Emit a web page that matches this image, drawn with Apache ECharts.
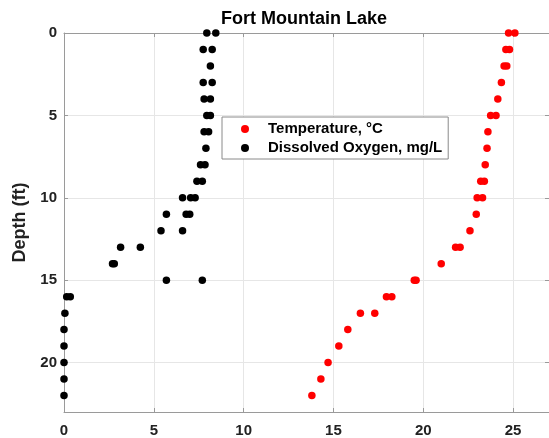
<!DOCTYPE html>
<html>
<head>
<meta charset="utf-8">
<script src="https://cdn.jsdelivr.net/npm/echarts@6/dist/echarts.min.js"></script>
<style>
html,body{margin:0;padding:0;background:#fff;}
#c{width:549px;height:438px;}
</style>
</head>
<body>
<div id="c"></div>
<script>
var titleText = 'Fort Mountain Lake';
var yAxisName = 'Depth (ft)';
var tempName = 'Temperature, \u00B0C';
var doName = 'Dissolved Oxygen, mg/L';

var tempDepth = [0, 0, 1, 1, 2, 2, 3, 4, 5, 5, 6, 7, 8, 9, 9, 10, 10, 11, 12, 13, 13, 14, 15, 15, 16, 16, 17, 17, 18, 19, 20, 21, 22];
var tempValue = [24.75, 25.1, 24.6, 24.8, 24.5, 24.65, 24.35, 24.15, 23.75, 24.05, 23.6, 23.55, 23.45, 23.2, 23.4, 23.0, 23.3, 22.95, 22.6, 21.8, 22.05, 21.0, 19.5, 19.6, 17.95, 18.25, 16.5, 17.3, 15.8, 15.3, 14.7, 14.3, 13.8];

var doDepth = [0, 0, 1, 1, 2, 3, 3, 4, 4, 5, 5, 6, 6, 7, 8, 8, 9, 9, 10, 10, 10, 11, 11, 11, 12, 12, 13, 13, 14, 14, 15, 15, 16, 16, 17, 18, 19, 20, 21, 22];
var doValue = [7.95, 8.45, 7.75, 8.25, 8.15, 7.75, 8.25, 7.8, 8.15, 7.95, 8.15, 7.8, 8.05, 7.9, 7.6, 7.85, 7.4, 7.7, 6.6, 7.05, 7.3, 5.7, 6.8, 7.0, 5.4, 6.6, 3.15, 4.25, 2.7, 2.8, 5.7, 7.7, 0.15, 0.35, 0.05, 0, 0, 0, 0, 0];

var xTicks = [0, 5, 10, 15, 20, 25];
var yTicks = [0, 5, 10, 15, 20];

function pairs(xs, ys) {
  var out = [];
  for (var i = 0; i < xs.length; i++) out.push([xs[i], ys[i]]);
  return out;
}

var FONT = '"Liberation Sans", Arial, Helvetica, sans-serif';
var AXC = '#9a9a9a';
var GRIDC = '#e6e6e6';

var chart = echarts.init(document.getElementById('c'), null, {renderer: 'canvas'});
chart.setOption({
  animation: false,
  backgroundColor: '#ffffff',
  title: {
    text: titleText,
    left: 221,
    top: 10,
    padding: 0,
    textStyle: {fontFamily: FONT, fontSize: 18, fontWeight: 'bold', color: '#000'}
  },
  legend: {
    data: [tempName, doName],
    orient: 'vertical',
    left: 222,
    top: 117,
    padding: [4, 6, 3, 19],
    itemGap: 3,
    itemWidth: 8,
    itemHeight: 8,
    icon: 'circle',
    borderColor: '#8a8a8a',
    borderWidth: 1,
    backgroundColor: '#fff',
    itemStyle: {opacity: 1},
    textStyle: {fontFamily: FONT, fontSize: 15, fontWeight: 'bold', color: '#000', lineHeight: 16, padding: [0, 0, 0, 14]}
  },
  grid: {left: 64, top: 33, width: 485, height: 383, containLabel: false},
  xAxis: [{
    type: 'value', min: 0, max: 27, interval: 5, position: 'bottom',
    axisLine: {show: true, onZero: false, lineStyle: {color: AXC, width: 1}},
    axisTick: {show: true, inside: true, length: 4, lineStyle: {color: AXC}},
    axisLabel: {margin: 11, fontFamily: FONT, fontSize: 15, fontWeight: 'bold', color: '#222',
      showMaxLabel: false,
      formatter: function (v) { return xTicks.indexOf(v) >= 0 ? String(v) : ''; }},
    splitLine: {show: true, lineStyle: {color: GRIDC, width: 1}}
  }, {
    type: 'value', min: 0, max: 27, interval: 5, position: 'top',
    axisLine: {show: true, onZero: false, lineStyle: {color: AXC, width: 1}},
    axisTick: {show: true, inside: true, length: 4, lineStyle: {color: AXC}},
    axisLabel: {show: false},
    splitLine: {show: false}
  }],
  yAxis: [{
    type: 'value', min: 0, max: 23, interval: 5, inverse: true, position: 'left',
    name: yAxisName, nameLocation: 'middle', nameGap: 30, nameRotate: 90,
    nameTextStyle: {fontFamily: FONT, fontSize: 18, fontWeight: 'bold', color: '#222'},
    axisLine: {show: true, onZero: false, lineStyle: {color: AXC, width: 1}},
    axisTick: {show: true, inside: true, length: 4, lineStyle: {color: AXC}},
    axisLabel: {margin: 7, fontFamily: FONT, fontSize: 15, fontWeight: 'bold', color: '#222',
      showMaxLabel: false,
      formatter: function (v) { return yTicks.indexOf(v) >= 0 ? String(v) : ''; }},
    splitLine: {show: true, lineStyle: {color: GRIDC, width: 1}}
  }, {
    type: 'value', min: 0, max: 23, interval: 5, inverse: true, position: 'right',
    axisLine: {show: true, onZero: false, lineStyle: {color: AXC, width: 1}},
    axisTick: {show: true, inside: true, length: 4, lineStyle: {color: AXC}},
    axisLabel: {show: false},
    splitLine: {show: false}
  }],
  series: [{
    name: tempName,
    type: 'scatter',
    xAxisIndex: 0, yAxisIndex: 0,
    symbol: 'circle',
    symbolSize: 7.5,
    itemStyle: {color: '#ff0000', opacity: 1},
    data: pairs(tempValue, tempDepth)
  }, {
    name: doName,
    type: 'scatter',
    xAxisIndex: 0, yAxisIndex: 0,
    symbol: 'circle',
    symbolSize: 7.5,
    itemStyle: {color: '#000000', opacity: 1},
    data: pairs(doValue, doDepth)
  }]
});
</script>
</body>
</html>
